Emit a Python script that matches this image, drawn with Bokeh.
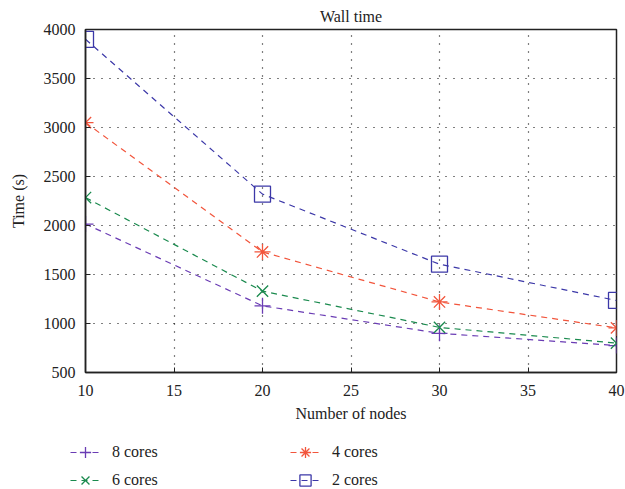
from bokeh.plotting import figure
from bokeh.models import Legend, LegendItem, Range1d, FixedTicker
from bokeh.layouts import column, row
from bokeh.embed import file_html
from bokeh.resources import INLINE

nodes = [10, 20, 30, 40]
cores8 = [2015, 1180, 900, 775]
cores6 = [2285, 1330, 960, 800]
cores4 = [3050, 1730, 1220, 955]
cores2 = [3900, 2320, 1605, 1235]
x_ticks = [10, 15, 20, 25, 30, 35, 40]
y_ticks = [500, 1000, 1500, 2000, 2500, 3000, 3500, 4000]

FONT = "Liberation Serif"
TXT = "#222222"

p = figure(width=625, height=426, output_backend="svg", toolbar_location=None,
           x_range=Range1d(10, 40), y_range=Range1d(500, 4000),
           title="Wall time", min_border_left=85, min_border_right=9,
           min_border_top=28, min_border_bottom=54)
p.title.align = "center"
p.title.text_font = FONT
p.title.text_font_size = "16px"
p.title.text_font_style = "normal"
p.title.text_color = TXT
p.title.standoff = 10

p.outline_line_color = TXT
p.outline_line_width = 1.5
p.background_fill_color = "white"
p.border_fill_color = "white"

for ax in (p.xaxis[0], p.yaxis[0]):
    ax.axis_line_width = 1.5
    ax.axis_line_color = TXT
    ax.major_tick_in = 5
    ax.major_tick_out = 0
    ax.major_tick_line_color = TXT
    ax.minor_tick_line_color = None
    ax.major_label_text_font = FONT
    ax.major_label_text_font_size = "16px"
    ax.major_label_text_color = TXT
    ax.axis_label_text_font = FONT
    ax.axis_label_text_font_size = "16px"
    ax.axis_label_text_font_style = "normal"
    ax.axis_label_text_color = TXT

p.xaxis.ticker = FixedTicker(ticks=x_ticks)
p.yaxis.ticker = FixedTicker(ticks=y_ticks)
p.xaxis.axis_label = "Number of nodes"
p.yaxis.axis_label = "Time (s)"
p.xaxis.major_label_standoff = 12
p.yaxis.major_label_standoff = 10
p.xaxis.axis_label_standoff = 6
p.yaxis.axis_label_standoff = 14

p.xgrid.grid_line_color = "black"
p.ygrid.grid_line_color = "black"
p.xgrid.grid_line_dash = "1 7"
p.ygrid.grid_line_dash = "1 7"
p.xgrid.grid_line_width = 1.2
p.ygrid.grid_line_width = 1.2

series = [
    ("8 cores", cores8, "#6a3cb4", "cross"),
    ("6 cores", cores6, "#1a8a4e", "x"),
    ("4 cores", cores4, "#f2553c", "asterisk"),
    ("2 cores", cores2, "#3c38a8", "square"),
]

# legend-only figure underneath (its ranges keep the copies out of view)
lp = figure(width=625, height=63, output_backend="svg", toolbar_location=None,
            x_range=Range1d(0, 1), y_range=Range1d(0, 1),
            x_axis_type=None, y_axis_type=None, min_border=0)
lp.outline_line_color = None
lp.xgrid.visible = False
lp.ygrid.visible = False
lp.background_fill_color = "white"
lp.border_fill_color = "white"

items = {}
for name, ys, col, mk in series:
    kw = dict(size=16, line_color=col, line_width=1.3)
    for fig in (p, lp):
        r1 = fig.line(nodes, ys, line_color=col, line_dash="6 5", line_width=1.2)
        if mk == "square":
            r2 = fig.scatter(nodes, ys, marker="square", fill_color=None, **kw)
        else:
            r2 = fig.scatter(nodes, ys, marker=mk, **kw)
    items[name] = LegendItem(label=name, renderers=[r1, r2])

legend = Legend(items=[items["8 cores"], items["4 cores"], items["6 cores"], items["2 cores"]],
                orientation="horizontal", ncols=2, location=(70, -5))
legend.label_text_font = FONT
legend.label_text_font_size = "16px"
legend.label_text_color = TXT
legend.border_line_color = None
legend.background_fill_alpha = 0
legend.glyph_width = 30
legend.glyph_height = 28
legend.label_height = 28
legend.label_standoff = 12
legend.label_width = 178
legend.spacing = 0
legend.padding = 0
legend.margin = 0
lp.add_layout(legend)

layout = column(p, row(lp, spacing=0), spacing=0)
open("out.html", "w").write(file_html(layout, INLINE))
